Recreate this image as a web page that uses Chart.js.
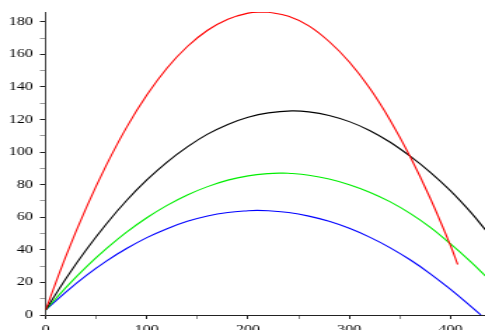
<!DOCTYPE html>
<html>
<head>
<meta charset="utf-8">
<script src="https://cdn.jsdelivr.net/npm/chart.js@4/dist/chart.umd.min.js"></script>
<style>
  html, body { margin: 0; padding: 0; background: #ffffff; overflow: hidden; }
  #c { display: block; width: 485px !important; height: 330px !important; }
</style>
</head>
<body>
<canvas id="c" width="346" height="330" style="width:485px;height:330px;"></canvas>
<script>
// Values
const xRed   = [0, 20, 40, 60, 80, 100, 120, 140, 160, 180, 200, 212, 220, 240, 260, 280, 300, 320, 340, 360, 380, 400, 407];
const yRed   = [3, 36, 65.6, 92, 115.2, 135, 151.6, 164.8, 174.8, 181.6, 185.3, 186, 185.8, 183.4, 177.5, 167.9, 155.3, 139.3, 119.9, 97.3, 71.5, 42.5, 31];

const xBlack = [0, 20, 40, 60, 80, 100, 120, 140, 160, 180, 200, 220, 243, 260, 280, 300, 320, 340, 360, 380, 400, 420, 435];
const yBlack = [3, 22.3, 39.9, 55.9, 70.3, 82.9, 93.9, 103.2, 111, 117, 121.4, 124.1, 125.3, 124.7, 122.5, 118.7, 113.3, 106.2, 97.5, 87.6, 76.2, 63, 51.8];

const xGreen = [0, 20, 40, 60, 80, 100, 120, 140, 160, 180, 200, 220, 233, 240, 260, 280, 300, 320, 340, 360, 380, 400, 420, 435];
const yGreen = [3, 16.8, 29.4, 40.7, 50.9, 59.7, 67.3, 73.7, 78.8, 82.8, 85.4, 86.8, 87.1, 87, 85.8, 83.5, 80, 75.4, 69.6, 62.4, 53.8, 43.6, 32.6, 23.6];

const xBlue  = [0, 20, 40, 60, 80, 100, 120, 140, 160, 180, 200, 209, 220, 240, 260, 280, 300, 320, 340, 360, 380, 400, 420, 430];
const yBlue  = [3, 14.1, 24.2, 33.1, 40.8, 47.5, 53, 57.5, 60.8, 62.9, 64, 64.2, 64, 62.9, 60.7, 57.5, 53.2, 47.8, 41.4, 33.9, 25.3, 15.7, 5.3, 0];

const xMajorTicks = [0, 100, 200, 300, 400];
const yMajorTicks = [0, 20, 40, 60, 80, 100, 120, 140, 160, 180];

function pts(xs, ys) { return xs.map((x, i) => ({ x: x, y: ys[i] })); }

const font = { family: "'Liberation Serif', 'DejaVu Serif', serif", size: 11.5 };

function lineSet(label, xs, ys, color) {
  return {
    label: label,
    data: pts(xs, ys),
    borderColor: color,
    backgroundColor: color,
    borderWidth: 1.1,
    pointRadius: 0,
    fill: false,
    tension: 0.4
  };
}

new Chart(document.getElementById('c'), {
  type: 'line',
  data: {
    datasets: [
      lineSet('red', xRed, yRed, '#ff0000'),
      lineSet('black', xBlack, yBlack, '#000000'),
      lineSet('green', xGreen, yGreen, '#00ee00'),
      lineSet('blue', xBlue, yBlue, '#0000ff')
    ]
  },
  options: {
    responsive: false,
    animation: false,
    devicePixelRatio: 1,
    layout: { padding: { top: 12, right: 0, left: 0, bottom: 0 } },
    plugins: { legend: { display: false }, tooltip: { enabled: false } },
    scales: {
      x: {
        type: 'linear',
        min: 0,
        max: 434,
        afterFit: (s) => { s.height = 15; },
        border: { display: true, color: '#222222', width: 1 },
        grid: {
          drawOnChartArea: false,
          drawTicks: true,
          tickLength: 4,
          tickColor: (ctx) => (xMajorTicks.includes(ctx.tick.value) ? '#222222' : '#888888')
        },
        ticks: {
          stepSize: 50,
          includeBounds: false,
          autoSkip: false,
          maxRotation: 0,
          padding: 4,
          color: '#000000',
          font: font,
          callback: (v) => (xMajorTicks.includes(v) ? String(v) : '')
        }
      },
      y: {
        type: 'linear',
        min: 0,
        max: 186,
        afterFit: (s) => { s.width = 32.5; },
        border: { display: true, color: '#444444', width: 1 },
        grid: {
          drawOnChartArea: false,
          drawTicks: true,
          tickLength: 4,
          tickColor: (ctx) => (yMajorTicks.includes(ctx.tick.value) ? '#222222' : '#999999')
        },
        ticks: {
          stepSize: 10,
          includeBounds: false,
          autoSkip: false,
          padding: 5,
          color: '#000000',
          font: font,
          callback: (v) => (yMajorTicks.includes(v) ? String(v) : '')
        }
      }
    }
  }
});
</script>
</body>
</html>
